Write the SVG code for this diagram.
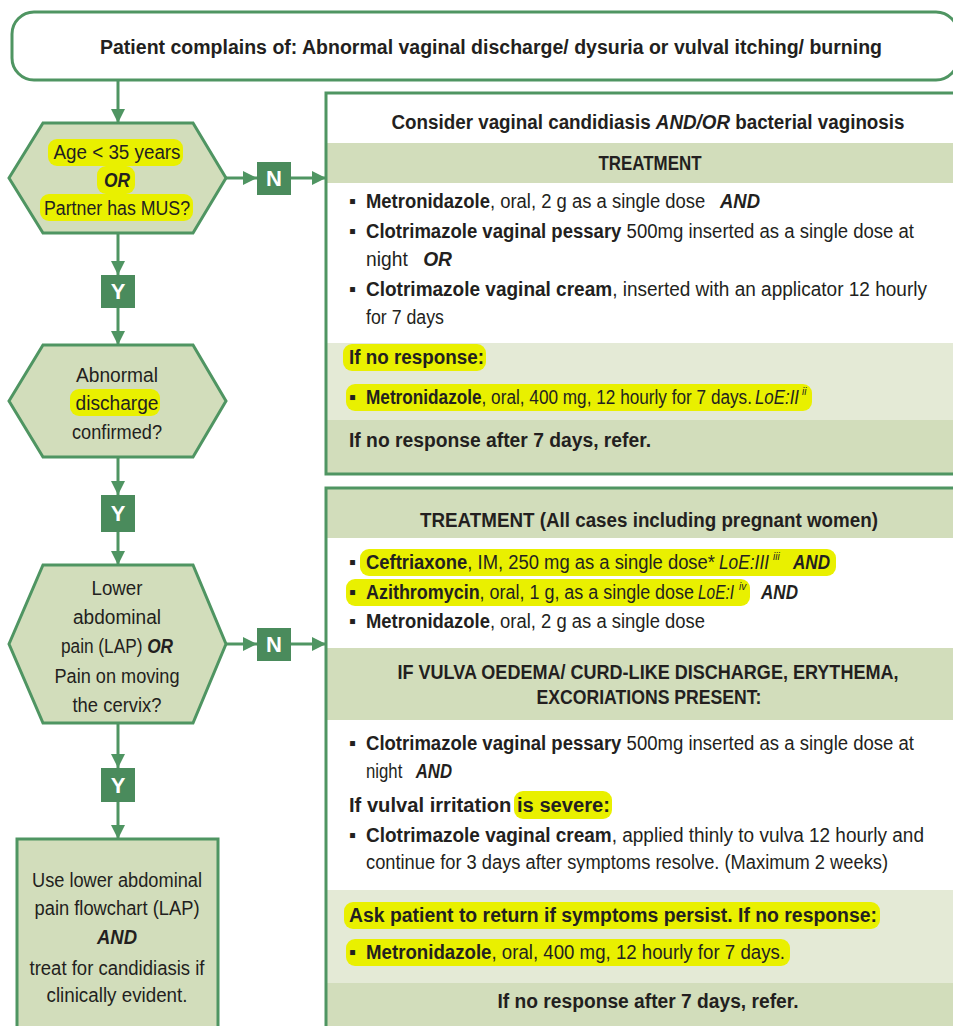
<svg xmlns="http://www.w3.org/2000/svg" width="953" height="1026" viewBox="0 0 953 1026">
<style>
.t{font-family:'Liberation Sans Narrow','Liberation Sans',Arial,sans-serif;font-size:20px;fill:#231f20}
.c{text-anchor:middle}
.b{font-weight:bold}
.bi{font-weight:bold;font-style:italic}
.i{font-style:italic}
.sup{font-family:'Liberation Sans',Arial,sans-serif;font-size:10px;font-style:italic;fill:#231f20}
.lab{font-family:'Liberation Sans','Arial',sans-serif;font-size:22px;font-weight:bold;fill:#fff;text-anchor:middle}
.hex{fill:#d2ddbb;stroke:#4f9562;stroke-width:3}
.box{fill:none;stroke:#4f9562;stroke-width:3}
.dark{fill:#d2ddbb}
.pale{fill:#e4ead6}
.hl{fill:#e9f000}
.yn{fill:#4a8b5c}
.con{stroke:#4f9562;stroke-width:3;fill:none}
</style>
<defs>
<marker id="ah" markerUnits="userSpaceOnUse" markerWidth="16" markerHeight="16" refX="14" refY="8" orient="auto">
<path d="M0,1 L14,8 L0,15 Z" fill="#4f9562"/>
</marker>
</defs>
<rect width="953" height="1026" fill="#fff"/>

<g id="start">
<rect x="12" y="12" width="946" height="68" rx="22" fill="#fff" stroke="#4f9562" stroke-width="3"/>
<text class="t c b" x="491" y="54" textLength="782" lengthAdjust="spacingAndGlyphs">Patient complains of: Abnormal vaginal discharge/ dysuria or vulval itching/ burning</text>
</g>

<g id="connectors">
<path class="con" d="M118,80 V123" marker-end="url(#ah)"/>
<path class="con" d="M226,178 H257" marker-end="url(#ah)"/>
<path class="con" d="M291,178 H326" marker-end="url(#ah)"/>
<path class="con" d="M118,233 V275" marker-end="url(#ah)"/>
<path class="con" d="M118,308 V345" marker-end="url(#ah)"/>
<path class="con" d="M118,457 V495" marker-end="url(#ah)"/>
<path class="con" d="M118,532 V565" marker-end="url(#ah)"/>
<path class="con" d="M226,644 H257" marker-end="url(#ah)"/>
<path class="con" d="M291,644 H326" marker-end="url(#ah)"/>
<path class="con" d="M118,723 V768" marker-end="url(#ah)"/>
<path class="con" d="M118,802 V839" marker-end="url(#ah)"/>
</g>

<g id="q1">
<polygon class="hex" points="9,178 43,123 193,123 226,178 193,233 43,233"/>
<rect class="hl" x="48" y="139" width="135" height="27" rx="9"/>
<rect class="hl" x="97" y="166" width="38" height="28" rx="9"/>
<rect class="hl" x="40" y="194" width="153" height="27" rx="9"/>
<text class="t c" x="117" y="159" textLength="127" lengthAdjust="spacingAndGlyphs">Age &lt; 35 years</text>
<text class="t c bi" x="117" y="187" textLength="26" lengthAdjust="spacingAndGlyphs">OR</text>
<text class="t c" x="117" y="215" textLength="146" lengthAdjust="spacingAndGlyphs">Partner has MUS?</text>
</g>

<g id="n1">
<rect class="yn" x="257" y="162" width="34" height="33"/>
<text class="lab" x="274" y="186">N</text>
</g>

<g id="y1">
<rect class="yn" x="101" y="275" width="34" height="33"/>
<text class="lab" x="118" y="299">Y</text>
</g>

<g id="q2">
<polygon class="hex" points="9,401 43,345 193,345 226,401 193,457 43,457"/>
<rect class="hl" x="70" y="389" width="90" height="27" rx="9"/>
<text class="t c" x="117" y="382" textLength="82" lengthAdjust="spacingAndGlyphs">Abnormal</text>
<text class="t c" x="117" y="410" textLength="83" lengthAdjust="spacingAndGlyphs">discharge</text>
<text class="t c" x="117" y="439" textLength="90" lengthAdjust="spacingAndGlyphs">confirmed?</text>
</g>

<g id="y2">
<rect class="yn" x="101" y="495" width="34" height="37"/>
<text class="lab" x="118" y="521">Y</text>
</g>

<g id="q3">
<polygon class="hex" points="9,644 43,565 193,565 226,644 193,723 43,723"/>
<text class="t c" x="117" y="595" textLength="51" lengthAdjust="spacingAndGlyphs">Lower</text>
<text class="t c" x="117" y="624" textLength="88" lengthAdjust="spacingAndGlyphs">abdominal</text>
<text class="t c" x="117" y="653" textLength="112" lengthAdjust="spacingAndGlyphs">pain (LAP) <tspan class="bi">OR</tspan></text>
<text class="t c" x="117" y="683" textLength="125" lengthAdjust="spacingAndGlyphs">Pain on moving</text>
<text class="t c" x="117" y="712" textLength="89" lengthAdjust="spacingAndGlyphs">the cervix?</text>
</g>

<g id="n2">
<rect class="yn" x="257" y="628" width="34" height="33"/>
<text class="lab" x="274" y="652">N</text>
</g>

<g id="y3">
<rect class="yn" x="101" y="768" width="34" height="34"/>
<text class="lab" x="118" y="793">Y</text>
</g>

<g id="lap">
<rect x="17" y="839" width="201" height="200" fill="#d2ddbb" stroke="#4f9562" stroke-width="3"/>
<text class="t c" x="117" y="887" textLength="170" lengthAdjust="spacingAndGlyphs">Use lower abdominal</text>
<text class="t c" x="117" y="915" textLength="165" lengthAdjust="spacingAndGlyphs">pain flowchart (LAP)</text>
<text class="t c bi" x="117" y="944" textLength="40" lengthAdjust="spacingAndGlyphs">AND</text>
<text class="t c" x="117" y="975" textLength="175" lengthAdjust="spacingAndGlyphs">treat for candidiasis if</text>
<text class="t c" x="117" y="1002" textLength="141" lengthAdjust="spacingAndGlyphs">clinically evident.</text>
</g>

<g id="box1">
<rect x="326" y="93" width="640" height="381" fill="#fff"/>
<rect class="dark" x="326" y="143" width="640" height="40"/>
<rect class="pale" x="326" y="343" width="640" height="77"/>
<rect class="dark" x="326" y="420" width="640" height="54"/>
<rect class="box" x="326" y="93" width="640" height="381"/>
<text class="t c b" x="648" y="129" textLength="513" lengthAdjust="spacingAndGlyphs">Consider vaginal candidiasis <tspan class="bi">AND/OR</tspan> bacterial vaginosis</text>
<text class="t c b" x="650" y="170" textLength="103" lengthAdjust="spacingAndGlyphs">TREATMENT</text>
<text class="t" x="349" y="208">▪</text>
<text class="t" x="366" y="208" textLength="394" lengthAdjust="spacingAndGlyphs"><tspan class="b">Metronidazole</tspan>, oral, 2 g as a single dose<tspan class="bi" dx="16">AND</tspan></text>
<text class="t" x="349" y="238">▪</text>
<text class="t" x="366" y="238" textLength="548" lengthAdjust="spacingAndGlyphs"><tspan class="b">Clotrimazole vaginal pessary</tspan> 500mg inserted as a single dose at</text>
<text class="t" x="366" y="266" textLength="86" lengthAdjust="spacingAndGlyphs">night<tspan class="bi" dx="16">OR</tspan></text>
<text class="t" x="349" y="296">▪</text>
<text class="t" x="366" y="296" textLength="561" lengthAdjust="spacingAndGlyphs"><tspan class="b">Clotrimazole vaginal cream</tspan>, inserted with an applicator 12 hourly</text>
<text class="t" x="366" y="324" textLength="78" lengthAdjust="spacingAndGlyphs">for 7 days</text>
<rect class="hl" x="343" y="344" width="143" height="27" rx="9"/>
<rect class="hl" x="346" y="384" width="466" height="27" rx="9"/>
<text class="t b" x="349" y="364" textLength="135" lengthAdjust="spacingAndGlyphs">If no response:</text>
<text class="t" x="349" y="404">▪</text>
<text class="t" x="366" y="404" textLength="386" lengthAdjust="spacingAndGlyphs"><tspan class="b">Metronidazole</tspan>, oral, 400 mg, 12 hourly for 7 days.</text>
<text class="t i" x="755" y="404" textLength="44" lengthAdjust="spacingAndGlyphs">LoE:II</text>
<text class="sup" x="802" y="395">ii</text>
<text class="t b" x="349" y="447" textLength="302" lengthAdjust="spacingAndGlyphs">If no response after 7 days, refer.</text>
</g>

<g id="box2">
<rect x="326" y="488" width="640" height="560" fill="#fff"/>
<rect class="dark" x="326" y="488" width="640" height="50"/>
<rect class="dark" x="326" y="648" width="640" height="72"/>
<rect class="pale" x="326" y="890" width="640" height="93"/>
<rect class="dark" x="326" y="983" width="640" height="60"/>
<rect class="box" x="326" y="488" width="640" height="560"/>
<text class="t c b" x="649" y="527" textLength="458" lengthAdjust="spacingAndGlyphs">TREATMENT  (All cases including pregnant women)</text>
<rect class="hl" x="360" y="549" width="476" height="27" rx="9"/>
<rect class="hl" x="346" y="579" width="404" height="27" rx="9"/>
<text class="t" x="349" y="569">▪</text>
<text class="t" x="366" y="569" textLength="349" lengthAdjust="spacingAndGlyphs"><tspan class="b">Ceftriaxone</tspan>, IM, 250 mg as a single dose*</text>
<text class="t i" x="719" y="569" textLength="50" lengthAdjust="spacingAndGlyphs">LoE:III</text>
<text class="sup" x="773" y="560">iii</text>
<text class="t bi" x="793" y="569" textLength="37" lengthAdjust="spacingAndGlyphs">AND</text>
<text class="t" x="349" y="599">▪</text>
<text class="t" x="366" y="599" textLength="328" lengthAdjust="spacingAndGlyphs"><tspan class="b">Azithromycin</tspan>, oral, 1 g, as a single dose</text>
<text class="t i" x="698" y="599" textLength="36" lengthAdjust="spacingAndGlyphs">LoE:I</text>
<text class="sup" x="739" y="590">iv</text>
<text class="t bi" x="761" y="599" textLength="37" lengthAdjust="spacingAndGlyphs">AND</text>
<text class="t" x="349" y="628">▪</text>
<text class="t" x="366" y="628" textLength="339" lengthAdjust="spacingAndGlyphs"><tspan class="b">Metronidazole</tspan>, oral, 2 g as a single dose</text>
<text class="t c b" x="648" y="679" textLength="501" lengthAdjust="spacingAndGlyphs">IF VULVA OEDEMA/ CURD-LIKE DISCHARGE, ERYTHEMA,</text>
<text class="t c b" x="649" y="704" textLength="225" lengthAdjust="spacingAndGlyphs">EXCORIATIONS PRESENT:</text>
<text class="t" x="349" y="750">▪</text>
<text class="t" x="366" y="750" textLength="548" lengthAdjust="spacingAndGlyphs"><tspan class="b">Clotrimazole vaginal pessary</tspan> 500mg inserted as a single dose at</text>
<text class="t" x="366" y="778" textLength="86" lengthAdjust="spacingAndGlyphs">night<tspan class="bi" dx="16">AND</tspan></text>
<rect class="hl" x="514" y="791" width="98" height="28" rx="9"/>
<text class="t b" x="349" y="812" textLength="261" lengthAdjust="spacingAndGlyphs">If vulval irritation is severe:</text>
<text class="t" x="349" y="842">▪</text>
<text class="t" x="366" y="842" textLength="558" lengthAdjust="spacingAndGlyphs"><tspan class="b">Clotrimazole vaginal cream</tspan>, applied thinly to vulva 12 hourly and</text>
<text class="t" x="366" y="869" textLength="522" lengthAdjust="spacingAndGlyphs">continue for 3 days after symptoms resolve. (Maximum 2 weeks)</text>
<rect class="hl" x="344" y="902" width="536" height="27" rx="9"/>
<rect class="hl" x="346" y="939" width="444" height="27" rx="9"/>
<text class="t b" x="349" y="922" textLength="528" lengthAdjust="spacingAndGlyphs">Ask patient to return if symptoms persist. If no response:</text>
<text class="t" x="349" y="959">▪</text>
<text class="t" x="366" y="959" textLength="419" lengthAdjust="spacingAndGlyphs"><tspan class="b">Metronidazole</tspan>, oral, 400 mg, 12 hourly for 7 days.</text>
<text class="t c b" x="648" y="1008" textLength="301" lengthAdjust="spacingAndGlyphs">If no response after 7 days, refer.</text>
</g>
</svg>
